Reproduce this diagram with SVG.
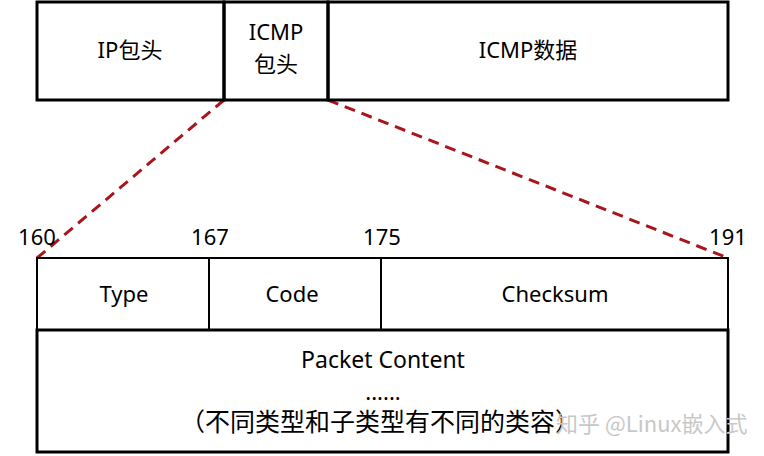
<svg xmlns="http://www.w3.org/2000/svg" width="764" height="456" viewBox="0 0 764 456">
<style>
.box{fill:none;stroke:#000;stroke-width:3}
.thin{fill:none;stroke:#000;stroke-width:2}
.t{font-family:"Noto Sans","Noto Sans CJK SC",sans-serif;font-size:22px;fill:#000;text-anchor:middle}
.dash{stroke:#a8161c;stroke-width:3;stroke-dasharray:11 7;fill:none}
.wm{font-family:"Noto Sans CJK SC",sans-serif;font-size:22px;fill:#c8c8c8}
</style>
<rect width="764" height="456" fill="#fff"/>
<g id="connectors">
<line class="dash" x1="224" y1="100" x2="37" y2="258"/>
<line class="dash" x1="328" y1="100" x2="728" y2="258"/>
</g>
<g id="ip-header">
<rect class="box" x="37" y="2" width="187" height="98"/>
<text class="t" x="130" y="58">IP包头</text>
</g>
<g id="icmp-header">
<rect class="box" x="224" y="2" width="104" height="98"/>
<text class="t" x="276" y="40">ICMP</text>
<text class="t" x="276" y="72">包头</text>
</g>
<g id="icmp-data">
<rect class="box" x="328" y="2" width="400" height="98"/>
<text class="t" x="528" y="58">ICMP数据</text>
</g>
<g id="bit-labels">
<text class="t" x="37" y="245">160</text>
<text class="t" x="210" y="245">167</text>
<text class="t" x="382" y="245">175</text>
<text class="t" x="728" y="245">191</text>
</g>
<g id="type">
<rect class="thin" x="37" y="258" width="172" height="72"/>
<text class="t" x="124" y="302">Type</text>
</g>
<g id="code">
<rect class="thin" x="209" y="258" width="172" height="72"/>
<text class="t" x="292" y="302">Code</text>
</g>
<g id="checksum">
<rect class="thin" x="381" y="258" width="347" height="72"/>
<text class="t" x="555" y="302">Checksum</text>
</g>
<g id="packet-content">
<rect class="box" x="37" y="330" width="691" height="122"/>
<text class="t" x="383" y="368" style="font-size:23px">Packet Content</text>
<text class="t" x="383" y="400">......</text>
<text class="t" x="380" y="431" style="font-size:25px">（不同类型和子类型有不同的类容）</text>
</g>
<text class="wm" x="556" y="432">知乎 @Linux嵌入式</text>
</svg>
